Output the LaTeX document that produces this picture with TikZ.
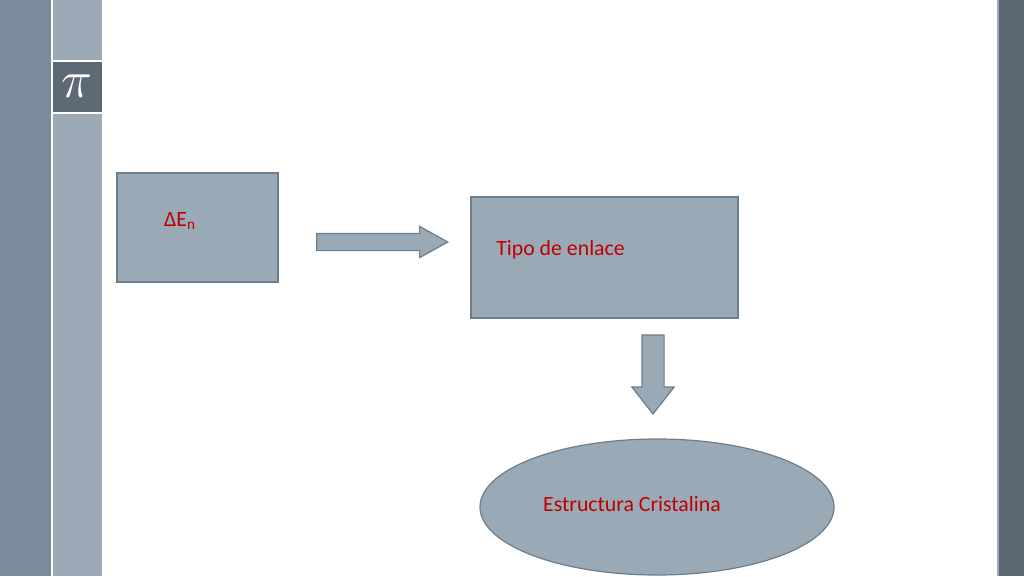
\documentclass[tikz,border=0pt]{standalone}
\usepackage{fontspec}
\setmainfont{Carlito}
\usetikzlibrary{shapes.geometric,shapes.arrows}
\definecolor{sidedark}{HTML}{7B8B9B}
\definecolor{sidelight}{HTML}{9BAAB6}
\definecolor{pibox}{HTML}{5D6975}
\definecolor{rightbar}{HTML}{5B6672}
\definecolor{boxfill}{HTML}{9AA9B6}
\definecolor{boxline}{HTML}{6F7D8A}
\definecolor{textred}{HTML}{C00000}
\tikzset{
  box/.style={draw=boxline, fill=boxfill, line width=0.3mm, inner sep=0pt},
  blockarrow/.style={single arrow, draw=boxline, fill=boxfill, line width=0.3mm,
    inner xsep=0pt, single arrow head indent=0pt},
  label/.style={text=textred, font=\fontsize{15.5}{18}\selectfont, inner sep=0pt}
}

\begin{document}
\begin{tikzpicture}[x=0.25mm,y=-0.25mm]
\useasboundingbox (0,0) rectangle (1024,576);
\fill[white] (0,0) rectangle (1024,576);

% side bars
\fill[sidedark] (0,0) rectangle (51,576);
\fill[sidelight] (53,0) rectangle (102,60);
\fill[sidelight] (53,114) rectangle (102,576);
\fill[pibox] (53,62) rectangle (102,112);
\node[text=white, inner sep=0pt, font=\Huge, scale=1.5, transform shape] (pi) at (77.5,86) {$\pi$};
\fill[rightbar] (998,0) rectangle (1024,576);
\draw[sidelight, line width=0.3mm] (998,0) -- (998,576);

% boxes
\node[box, minimum width=40.25mm, minimum height=27.25mm] (energia) at (197.5,227.5) {};
\node[label] (energiatxt) at (180,221) {ΔE\textsubscript{n}};

\node[box, minimum width=66.75mm, minimum height=30.25mm] (enlace) at (604.5,257.5) {};
\node[label, anchor=west] (enlacetxt) at (496,250) {Tipo de enlace};

\node[box, ellipse, minimum width=88.5mm, minimum height=34mm] (estructura) at (657,507) {};
\node[label] (estructuratxt) at (632,504) {Estructura Cristalina};

% arrows
\node[blockarrow, inner ysep=2mm, minimum height=32.75mm,
  single arrow head extend=1.75mm, single arrow tip angle=58, anchor=tip] (flechaA) at (449,242) {};
\node[blockarrow, rotate=-90, inner ysep=2.625mm, minimum height=19.75mm,
  single arrow head extend=2.5mm, single arrow tip angle=76, anchor=tip] (flechaB) at (653,415) {};
\end{tikzpicture}
\end{document}
